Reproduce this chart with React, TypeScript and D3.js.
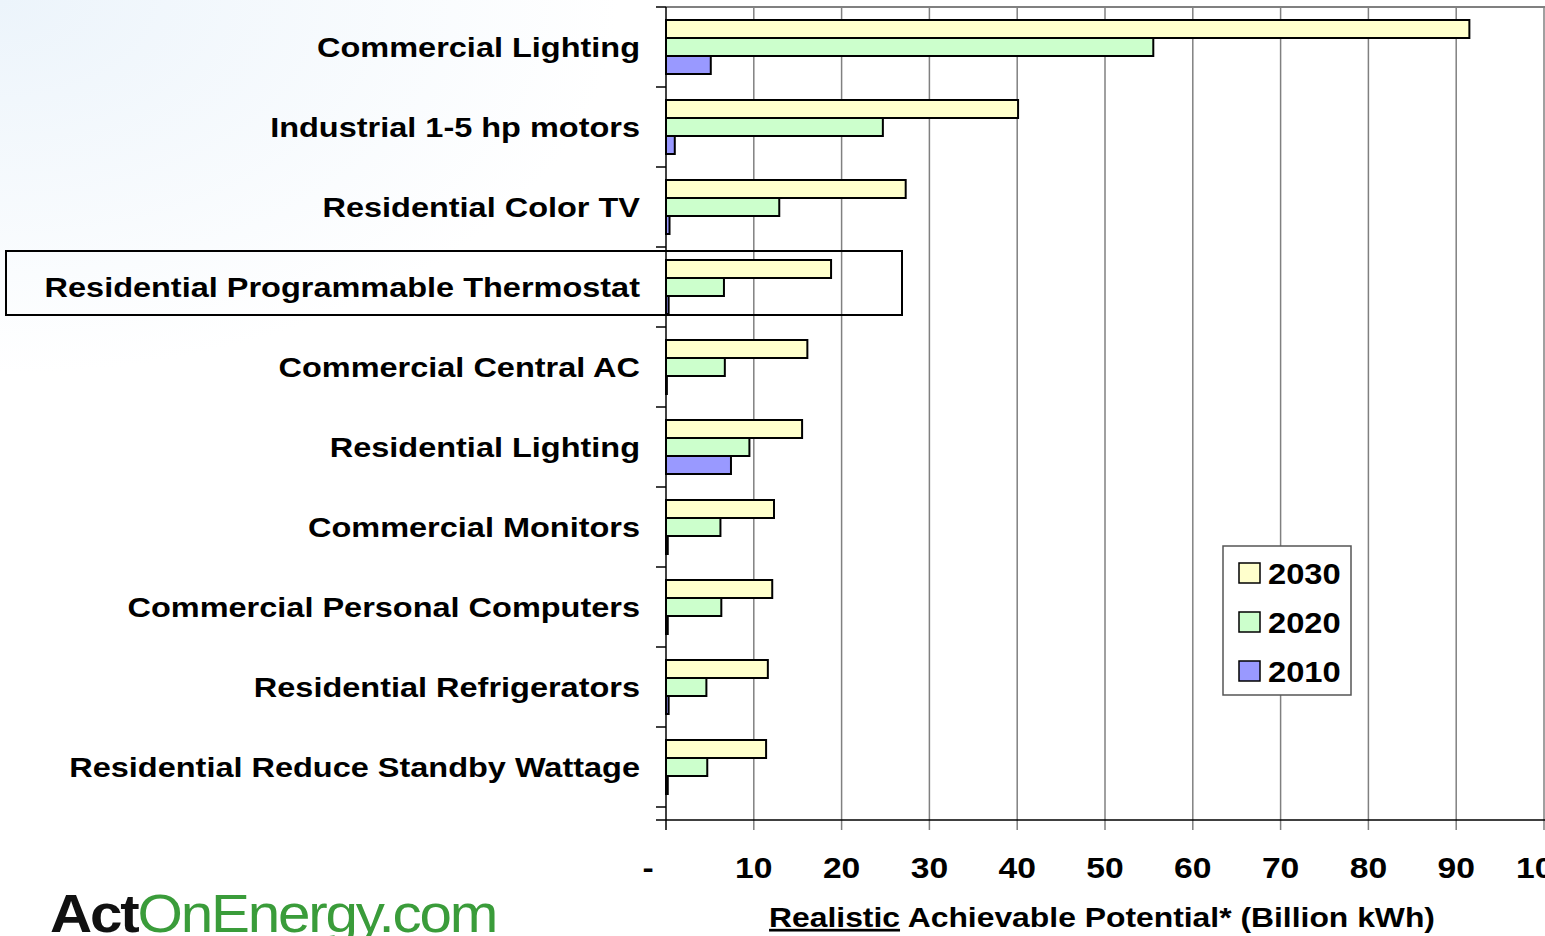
import React, { useEffect, useRef } from 'react';
import * as d3 from 'd3';

const categories = [
  'Commercial Lighting',
  'Industrial 1-5 hp motors',
  'Residential Color TV',
  'Residential Programmable Thermostat',
  'Commercial Central AC',
  'Residential Lighting',
  'Commercial Monitors',
  'Commercial Personal Computers',
  'Residential Refrigerators',
  'Residential Reduce Standby Wattage',
];
const years = ['2030', '2020', '2010'];
const values2030 = [91.5, 40.1, 27.3, 18.8, 16.1, 15.5, 12.3, 12.1, 11.6, 11.4];
const values2020 = [55.5, 24.7, 12.9, 6.6, 6.7, 9.5, 6.2, 6.3, 4.6, 4.7];
const values2010 = [5.1, 1.0, 0.4, 0.3, 0.1, 7.4, 0.2, 0.2, 0.3, 0.2];
const xTicks = [0, 10, 20, 30, 40, 50, 60, 70, 80, 90, 100];
const highlighted = 'Residential Programmable Thermostat';

const colors: Record<string, string> = { '2030': '#ffffcc', '2020': '#ccffcc', '2010': '#9999ff' };
const FONT = '"Liberation Sans", Arial, sans-serif';
// the original slide text is a bit wider than Arial, stretch it horizontally
const SX = 1.16;

export default function App() {
  const ref = useRef<SVGSVGElement>(null);

  useEffect(() => {
    const svg = d3.select(ref.current);
    svg.selectAll('*').remove();
    const W = 1545, H = 936;
    const left = 666, right = 1544, top = 7, bottom = 807, axisY = 820;

    const defs = svg.append('defs');
    const grad = defs.append('radialGradient').attr('id', 'bg')
      .attr('cx', '0').attr('cy', '0').attr('r', '0.4');
    grad.append('stop').attr('offset', '0').attr('stop-color', '#ecf4fb');
    grad.append('stop').attr('offset', '1').attr('stop-color', '#ffffff');
    svg.append('rect').attr('width', W).attr('height', H).attr('fill', 'url(#bg)');

    const x = d3.scaleLinear().domain([0, 100]).range([left, right]);
    const y = d3.scaleBand().domain(categories).range([top, bottom]);
    const sub = d3.scaleBand().domain(years).range([13, y.bandwidth() - 13]);

    // plot background
    svg.append('rect').attr('x', left).attr('y', top).attr('width', right - left + 2)
      .attr('height', axisY - top).attr('fill', '#fff');

    // grid lines
    svg.append('g').selectAll('line').data(xTicks.slice(1)).join('line')
      .attr('x1', d => x(d)).attr('x2', d => x(d))
      .attr('y1', top).attr('y2', axisY + 10)
      .attr('stroke', '#808080').attr('stroke-width', 1.5);
    svg.append('line').attr('x1', left).attr('x2', W).attr('y1', top).attr('y2', top)
      .attr('stroke', '#808080').attr('stroke-width', 2);

    // bars
    const series: Record<string, number[]> = { '2030': values2030, '2020': values2020, '2010': values2010 };
    const rows = categories.flatMap((c, i) => years.map(yr => ({ c, yr, v: series[yr][i] })));
    svg.append('g').selectAll('rect').data(rows).join('rect')
      .attr('x', x(0))
      .attr('y', d => (y(d.c) as number) + (sub(d.yr) as number))
      .attr('width', d => x(d.v) - x(0))
      .attr('height', sub.bandwidth())
      .attr('fill', d => colors[d.yr])
      .attr('stroke', '#000').attr('stroke-width', 2);

    // y axis
    svg.append('line').attr('x1', left).attr('x2', left).attr('y1', top).attr('y2', axisY + 10)
      .attr('stroke', '#000').attr('stroke-width', 1.5);
    const catTicks = categories.map(c => y(c) as number).concat([bottom]);
    svg.append('g').selectAll('line').data(catTicks).join('line')
      .attr('x1', left - 10).attr('x2', left).attr('y1', d => d).attr('y2', d => d)
      .attr('stroke', '#000').attr('stroke-width', 1.5);

    // x axis
    svg.append('line').attr('x1', left - 10).attr('x2', W).attr('y1', axisY).attr('y2', axisY)
      .attr('stroke', '#000').attr('stroke-width', 1.5);
    svg.append('g').selectAll('text').data(xTicks).join('text')
      .attr('transform', d => `translate(${d === 0 ? x(d) - 18 : x(d)},878) scale(${SX},1)`)
      .attr('text-anchor', 'middle')
      .attr('font-family', FONT).attr('font-weight', 'bold').attr('font-size', 29)
      .text(d => d === 0 ? '-' : String(d));

    // category labels
    svg.append('g').selectAll('text').data(categories).join('text')
      .attr('transform', d => `translate(640,${(y(d) as number) + y.bandwidth() / 2 + 10}) scale(${SX},1)`)
      .attr('text-anchor', 'end')
      .attr('font-family', FONT).attr('font-weight', 'bold').attr('font-size', 28)
      .text(d => d);

    // highlight box
    const hy = y(highlighted) as number;
    svg.append('rect').attr('x', 6).attr('y', hy + 4).attr('width', 896).attr('height', 64)
      .attr('fill', 'none').attr('stroke', '#000').attr('stroke-width', 2);

    // x title
    const title = svg.append('text').attr('transform', `translate(1102,927) scale(${SX + 0.02},1)`)
      .attr('text-anchor', 'middle')
      .attr('font-family', FONT).attr('font-weight', 'bold').attr('font-size', 27);
    title.append('tspan').attr('text-decoration', 'underline').text('Realistic');
    title.append('tspan').text(' Achievable Potential* (Billion kWh)');

    // legend
    const lg = svg.append('g').attr('transform', 'translate(1223,546)');
    lg.append('rect').attr('width', 128).attr('height', 149).attr('fill', '#fff')
      .attr('stroke', '#555').attr('stroke-width', 1.5);
    years.forEach((yr, i) => {
      const row = lg.append('g').attr('transform', `translate(0,${27 + i * 49})`);
      row.append('rect').attr('x', 16).attr('y', -10).attr('width', 21).attr('height', 20)
        .attr('fill', colors[yr]).attr('stroke', '#000').attr('stroke-width', 1.5);
      row.append('text').attr('transform', 'translate(45,11) scale(1.09,1)')
        .attr('font-family', FONT).attr('font-weight', 'bold').attr('font-size', 30).text(yr);
    });

    // logo
    const logo = svg.append('text').attr('transform', 'translate(50,932) scale(1.08,1)')
      .attr('font-family', FONT).attr('font-size', 54).attr('letter-spacing', -2);
    logo.append('tspan').attr('font-weight', 'bold').attr('fill', '#111').text('Act');
    logo.append('tspan').attr('fill', '#3a9c3a').text('OnEnergy.com');
  }, []);

  return (
    <svg ref={ref} width={1545} height={936}
      style={{ position: 'absolute', left: 0, top: 0, display: 'block' }} />
  );
}
